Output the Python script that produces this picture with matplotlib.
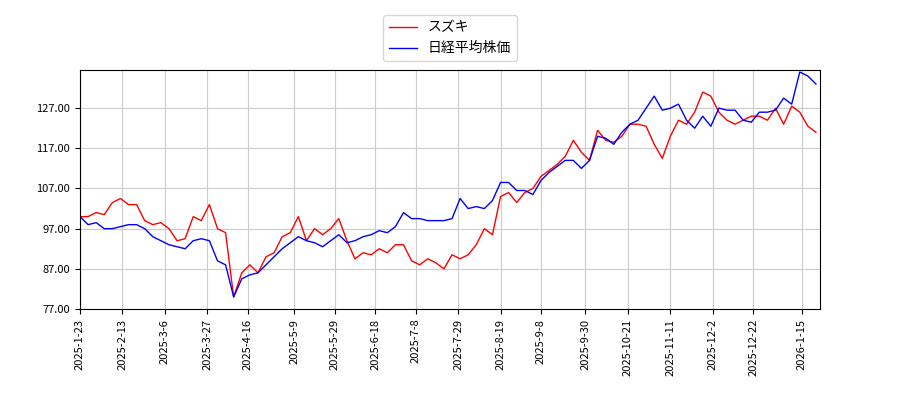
import matplotlib
matplotlib.use('Agg')
import matplotlib.pyplot as plt
import pandas as pd
import numpy as np

plt.rcParams['font.family'] = ['Noto Sans CJK JP', 'DejaVu Sans']

# データ（4日おき、2025-01-23開始）
suzuki = [100, 100, 101, 100.5, 103.5, 104.5, 103, 103, 99, 98, 98.5, 97, 94, 94.5, 100, 99,
          103, 97, 96, 80, 86, 88, 86, 90, 91, 95, 96, 100, 94, 97, 95.5, 97, 99.5, 94, 89.5, 91,
          90.5, 92, 91, 93, 93, 89, 88, 89.5, 88.5, 87, 90.5, 89.5, 90.5, 93, 97, 95.5, 105, 106,
          103.5, 106, 107, 110, 111.5, 113, 115, 119, 116, 114, 121.5, 119, 118.5, 120, 123, 123,
          122.5, 118, 114.5, 120, 124, 123, 126, 131, 130, 126, 124, 123, 124, 125, 125, 124, 127,
          123, 127.5, 126, 122.5, 121]
nikkei = [100, 98, 98.5, 97, 97, 97.5, 98, 98, 97, 95, 94, 93, 92.5, 92, 94, 94.5, 94, 89, 88,
          80, 84.5, 85.5, 86, 88, 90, 92, 93.5, 95, 94, 93.5, 92.5, 94, 95.5, 93.5, 94, 95, 95.5,
          96.5, 96, 97.5, 101, 99.5, 99.5, 99, 99, 99, 99.5, 104.5, 102, 102.5, 102, 104, 108.5,
          108.5, 106.5, 106.5, 105.5, 109, 111, 112.5, 114, 114, 112, 114, 120, 119.5, 118, 121,
          123, 124, 127, 130, 126.5, 127, 128, 124, 122, 125, 122.5, 127, 126.5, 126.5, 124, 123.5,
          126, 126, 126.5, 129.5, 128, 136, 135, 133]
tick_dates = ['2025-1-23', '2025-2-13', '2025-3-6', '2025-3-27', '2025-4-16', '2025-5-9',
              '2025-5-29', '2025-6-18', '2025-7-8', '2025-7-29', '2025-8-19', '2025-9-8',
              '2025-9-30', '2025-10-21', '2025-11-11', '2025-12-2', '2025-12-22', '2026-1-15']

n = min(len(suzuki), len(nikkei))
dates = pd.date_range('2025-01-23', periods=n, freq='4D')

fig = plt.figure(figsize=(9, 4), dpi=100)
ax = fig.add_axes([80/900, 91/400, 740/900, 239/400])
ax.plot(dates, suzuki[:n], color='red', lw=1, label='スズキ')
ax.plot(dates, nikkei[:n], color='blue', lw=1, label='日経平均株価')

ax.set_xticks(pd.to_datetime(tick_dates))
ax.set_xticklabels(tick_dates, rotation=90, fontsize=8)
ax.set_yticks(np.arange(77, 130, 10))
ax.set_yticklabels([f'{v:.2f}' for v in np.arange(77, 130, 10)], fontsize=8)
ax.set_xlim(dates[0], pd.Timestamp('2026-01-24'))
ax.set_ylim(77, 136.5)
ax.grid(True, color='#cccccc')
fig.legend(loc='upper center', bbox_to_anchor=(0.5, 0.98), fontsize=10)
fig.savefig('out.png')
